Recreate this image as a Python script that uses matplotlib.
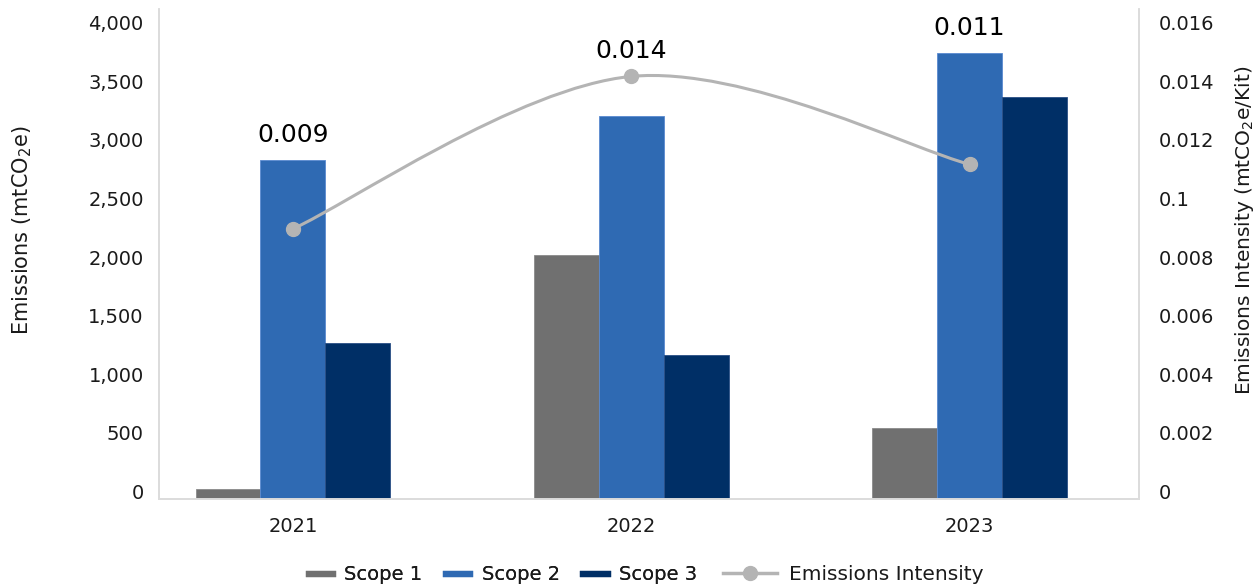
import matplotlib
matplotlib.use("Agg")
import matplotlib.pyplot as plt
from matplotlib.lines import Line2D
from matplotlib.path import Path
from matplotlib.patches import PathPatch
from matplotlib.ticker import FixedLocator, FixedFormatter
import matplotlib.transforms as mtransforms
import numpy as np

# ---- data ----
years = ["2021", "2022", "2023"]
scope1 = [85, 2080, 600]
scope2 = [2890, 3262, 3797]
scope3 = [1330, 1220, 3422]
intensity = [0.0092, 0.0144, 0.0114]
intensity_labels = ["0.009", "0.014", "0.011"]
left_ticks = [0, 500, 1000, 1500, 2000, 2500, 3000, 3500, 4000]
left_tick_labels = ["0", "500", "1,000", "1,500", "2,000", "2,500", "3,000", "3,500", "4,000"]
right_ticks = [0, 0.002, 0.004, 0.006, 0.008, 0.010, 0.012, 0.014, 0.016]
right_tick_labels = ["0", "0.002", "0.004", "0.006", "0.008", "0.1", "0.012", "0.014", "0.016"]

c1, c2, c3 = "#707070", "#2F6AB3", "#002F66"
cline = "#B4B4B4"
spine_c = "#DCDCDC"
txt_c = "#1A1A1A"

plt.rcParams["font.family"] = ["DejaVu Sans"]
plt.rcParams["mathtext.fontset"] = "dejavusans"

fig = plt.figure(figsize=(12.59, 5.88), dpi=100)
ax = fig.add_axes([159/1259, 1 - 498.5/588, (1139-159)/1259, (498.5-9)/588])
ax2 = ax.twinx()

x = np.arange(len(years))
w = 0.192
ax.bar(x - w, scope1, w, color=c1, edgecolor="#8a8a8a", linewidth=0.6, zorder=2)
ax.bar(x, scope2, w, color=c2, edgecolor="#5a8ad0", linewidth=0.6, zorder=2)
ax.bar(x + w, scope3, w, color=c3, edgecolor="#2a4f85", linewidth=0.6, zorder=2)

ymax_left = 4175
ymax_right = 0.016 * ymax_left / 4000
ax.set_xlim(-0.396, 2.501)
ax.set_ylim(0, ymax_left)
ax2.set_ylim(0, ymax_right)

# smooth line (Excel-like Bezier smoothing through the data points)
pts = np.column_stack([x.astype(float), np.array(intensity)])
verts = [tuple(pts[0])]
codes = [Path.MOVETO]
n = len(pts)
for i in range(n - 1):
    p_prev = pts[i - 1] if i > 0 else pts[i]
    p_next2 = pts[i + 2] if i + 2 < n else pts[i + 1]
    cp1 = pts[i] + (pts[i + 1] - p_prev) / 6
    cp2 = pts[i + 1] - (p_next2 - pts[i]) / 6
    verts += [tuple(cp1), tuple(cp2), tuple(pts[i + 1])]
    codes += [Path.CURVE4] * 3
ax2.add_patch(PathPatch(Path(verts, codes), facecolor="none", edgecolor=cline,
                        linewidth=2.2, zorder=3))
ax2.plot(x, intensity, linestyle="none", marker="o", markersize=10,
         color=cline, zorder=4)

# labels above the highest element
scale = ymax_left / ymax_right
for xi, s2, iv, lab in zip(x, scope2, intensity, intensity_labels):
    top = max(s2, iv * scale)
    ax.annotate(lab, (xi, top), xytext=(0, 18), textcoords="offset points",
                ha="center", va="center", fontsize=18, color="black",
                zorder=5)

# axes styling
for a in (ax, ax2):
    a.spines["top"].set_visible(False)
    for s in ("left", "right", "bottom"):
        a.spines[s].set_color(spine_c)
        a.spines[s].set_linewidth(1.2)
    a.tick_params(length=0)
ax.set_xticks(x)
ax.set_xticklabels(years, fontsize=14, color=txt_c)
ax.tick_params(axis="x", pad=13)

ax.yaxis.set_major_locator(FixedLocator(left_ticks))
ax.yaxis.set_major_formatter(FixedFormatter(left_tick_labels))
ax.tick_params(axis="y", labelsize=14, labelcolor=txt_c, pad=11)
ax2.yaxis.set_major_locator(FixedLocator(right_ticks))
ax2.yaxis.set_major_formatter(FixedFormatter(right_tick_labels))
ax2.tick_params(axis="y", labelsize=14, labelcolor=txt_c, pad=14)

off = mtransforms.ScaledTranslation(0, 7/100, fig.dpi_scale_trans)
for lab in ax.get_yticklabels() + ax2.get_yticklabels():
    lab.set_transform(lab.get_transform() + off)

ax.set_ylabel(r"Emissions (mtCO$_2$e)", fontsize=15, color=txt_c)
ax.yaxis.set_label_coords(-0.128, 0.548)
ax2.set_ylabel(r"Emissions Intensity (mtCO$_2$e/Kit)", fontsize=14.5, color=txt_c,
               rotation=90)
ax2.yaxis.set_label_coords(1.096, 0.548)

scope_handles = [
    Line2D([], [], color=c1, linewidth=4.5),
    Line2D([], [], color=c2, linewidth=4.5),
    Line2D([], [], color=c3, linewidth=4.5),
]
leg1 = fig.legend(scope_handles, ["Scope 1", "Scope 2", "Scope 3"],
                  loc="center", bbox_to_anchor=(503/1259, 1 - 575/588), ncol=3,
                  frameon=False, fontsize=14, handlelength=1.25, handletextpad=0.6,
                  columnspacing=1.2, labelcolor=txt_c)
fig.add_artist(leg1)
int_handle = [Line2D([], [], color=cline, linewidth=2.5, marker="o", markersize=10)]
fig.legend(int_handle, ["Emissions Intensity"],
           loc="center", bbox_to_anchor=(853/1259, 1 - 575/588), ncol=1,
           frameon=False, fontsize=14.5, handlelength=2.7, handletextpad=0.6,
           labelcolor=txt_c)

fig.savefig("out.png", dpi=100)
